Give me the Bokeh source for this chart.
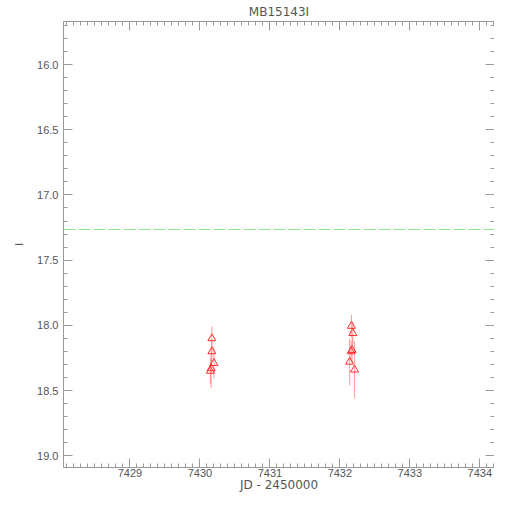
from bokeh.plotting import figure
from bokeh.models import Range1d, LinearAxis, Span, FixedTicker, ColumnDataSource, CustomJSTickFormatter
from bokeh.embed import file_html
from bokeh.resources import INLINE

title = "MB15143I"
x_label = "JD - 2450000"
y_label = "I"

jd = [7430.17, 7430.17, 7430.20, 7430.16, 7430.15,
      7432.165, 7432.185, 7432.175, 7432.16, 7432.14, 7432.21]
mag = [18.10, 18.20, 18.29, 18.33, 18.35,
       18.005, 18.06, 18.19, 18.20, 18.28, 18.34]
err = [0.09, 0.08, 0.12, 0.15, 0.10,
       0.085, 0.09, 0.10, 0.08, 0.18, 0.22]
ref_mag = 17.265

x_ticks = [7429, 7430, 7431, 7432, 7433, 7434]
y_ticks = [16.0, 16.5, 17.0, 17.5, 18.0, 18.5, 19.0]
x_minor = [round(7428.0 + 0.1 * i, 2) for i in range(63)]
y_minor = [round(15.6 + 0.1 * i, 2) for i in range(36)]

src = ColumnDataSource(dict(
    x=jd, y=mag,
    lo=[m - e for m, e in zip(mag, err)],
    hi=[m + e for m, e in zip(mag, err)],
))

p = figure(width=494, height=494, output_backend="svg", toolbar_location=None,
           x_range=Range1d(7428.05, 7434.21), y_range=Range1d(19.09, 15.67),
           min_border_left=63, min_border_right=0, min_border_top=0, min_border_bottom=0)
p.title.text = title
p.title.align = "center"
p.title.text_font = "DejaVu Sans"
p.title.text_font_size = "12px"
p.title.text_font_style = "normal"
p.title.text_color = "#555555"
p.title.standoff = 5
p.outline_line_color = None
p.grid.visible = False
p.background_fill_color = "white"
p.border_fill_color = "white"

axis_color = "#9a9a9a"
text_color = "#555555"


def style(ax):
    ax.axis_line_color = axis_color
    ax.major_tick_line_color = axis_color
    ax.minor_tick_line_color = axis_color
    ax.major_tick_in = 9
    ax.major_tick_out = 0
    ax.minor_tick_in = 4
    ax.minor_tick_out = 0
    ax.major_label_text_font = "Liberation Sans"
    ax.major_label_text_font_size = "11px"
    ax.major_label_text_color = text_color
    ax.axis_label_text_font = "DejaVu Sans"
    ax.axis_label_text_font_size = "11px"
    ax.axis_label_text_font_style = "normal"
    ax.axis_label_text_color = text_color


p.xaxis.ticker = FixedTicker(ticks=x_ticks, minor_ticks=x_minor)
p.yaxis.ticker = FixedTicker(ticks=y_ticks, minor_ticks=y_minor)
p.xaxis.axis_label = x_label
p.yaxis.axis_label = y_label
style(p.xaxis[0])
style(p.yaxis[0])
p.xaxis.axis_label_text_font_size = "12px"
p.xaxis.major_label_standoff = 1
p.xaxis.axis_label_standoff = -2
p.yaxis.major_label_standoff = 5
p.yaxis.axis_label_standoff = 8
p.yaxis.formatter = CustomJSTickFormatter(code="return tick.toFixed(1)")


def frame_axis(major, minor, side):
    # label-free axes that only draw inward ticks on the top and right edges
    big = LinearAxis(ticker=FixedTicker(ticks=[], minor_ticks=major))
    small = LinearAxis(ticker=FixedTicker(ticks=[], minor_ticks=[m for m in minor if all(abs(m - t) > 1e-6 for t in major)]))
    for ax, ln in ((big, 9), (small, 4)):
        style(ax)
        ax.minor_tick_in = ln
        ax.major_label_standoff = 0
        ax.axis_label_standoff = 0
        p.add_layout(ax, side)
    small.axis_line_color = None


frame_axis(x_ticks, x_minor, "above")
frame_axis(y_ticks, y_minor, "right")

p.add_layout(Span(location=ref_mag, dimension="width", line_color="#8fe88f",
                  line_width=1, line_dash="12 3"))

p.segment(x0="x", y0="lo", x1="x", y1="hi", source=src,
          line_color="#ff7070", line_alpha=0.7, line_width=1)
p.scatter(x="x", y="y", source=src, marker="triangle", size=8,
          fill_color=None, line_color="#ff3030", line_width=1)

open("out.html", "w").write(file_html(p, INLINE))
